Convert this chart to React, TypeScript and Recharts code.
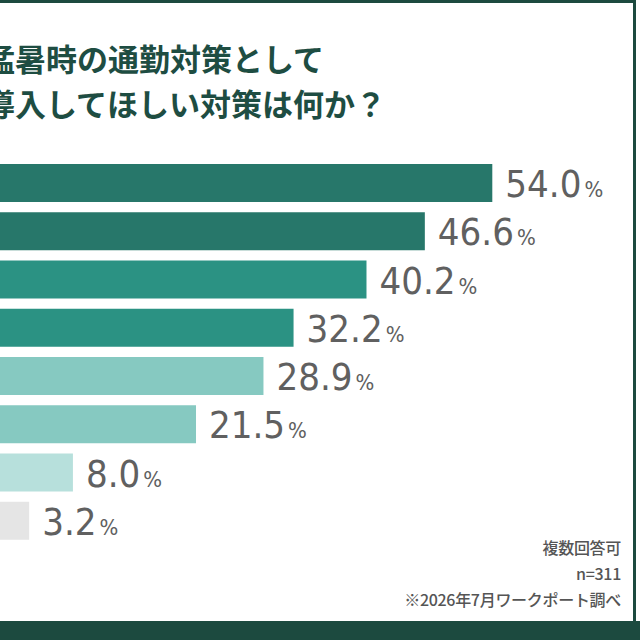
import { BarChart, Bar, XAxis, YAxis, Cell, LabelList } from "recharts";

// categories are cut off on the left of the picture, so only ids are kept
const categories = ["1", "2", "3", "4", "5", "6", "7", "8"];
const values = [54.0, 46.6, 40.2, 32.2, 28.9, 21.5, 8.0, 3.2];
const colors = [
  "#27776a",
  "#27776a",
  "#2b9283",
  "#2b9283",
  "#86c9c1",
  "#86c9c1",
  "#b7e0dc",
  "#e5e5e5",
];
const titleLines = ["猛暑時の通勤対策として", "導入してほしい対策は何か？"];
const notes = ["複数回答可", "n=311", "※2026年7月ワークポート調べ"];

const data = categories.map((name, i) => ({ name, value: values[i] }));

const DARK = "#1c4a3f";

const ValueLabel = (props: any) => {
  const { x, y, width, height, value } = props;
  return (
    <text
      x={x + width + 13}
      y={y + height / 2 + 14}
      fill="#606060"
      fontFamily="'DejaVu Sans Condensed', sans-serif"
    >
      <tspan fontSize={38}>{Number(value).toFixed(1)}</tspan>
      <tspan fontSize={22} dx={3}>
        %
      </tspan>
    </text>
  );
};

export default function App() {
  return (
    <div
      style={{
        position: "fixed",
        left: 0,
        top: 0,
        width: 640,
        height: 640,
        background: "#fff",
        overflow: "hidden",
      }}
    >
      {/* frame: top line, right line, bottom band */}
      <div style={{ position: "absolute", left: 0, top: 0, width: 636, height: 3, background: DARK }} />
      <div style={{ position: "absolute", left: 633, top: 0, width: 3, height: 621, background: DARK }} />
      <div style={{ position: "absolute", left: 0, top: 621, width: 640, height: 19, background: DARK }} />

      {/* title */}
      {titleLines.map((t, i) => (
        <div
          key={t}
          style={{
            position: "absolute",
            left: -16,
            top: 39 + i * 45,
            fontFamily: "'Noto Sans CJK JP', sans-serif",
            fontWeight: 700,
            fontSize: 31,
            lineHeight: "37px",
            color: "#1e4d42",
            whiteSpace: "nowrap",
          }}
        >
          {t}
        </div>
      ))}

      <div style={{ position: "absolute", left: 0, top: 0 }}>
        <BarChart
          width={640}
          height={640}
          data={data}
          layout="vertical"
          margin={{ top: 159, right: 93, bottom: 95, left: 0 }}
        >
          <XAxis type="number" domain={[0, 60]} hide />
          <YAxis type="category" dataKey="name" hide />
          <Bar dataKey="value" barSize={38} isAnimationActive={false}>
            {data.map((d, i) => (
              <Cell key={d.name} fill={colors[i]} />
            ))}
            <LabelList dataKey="value" content={<ValueLabel />} />
          </Bar>
        </BarChart>
      </div>

      {/* notes */}
      {notes.map((n, i) => (
        <div
          key={n}
          style={{
            position: "absolute",
            right: 19,
            top: 537 + i * 26,
            fontFamily: "'Noto Sans CJK JP', sans-serif",
            fontWeight: 500,
            fontSize: 16,
            lineHeight: "21px",
            color: "#555",
            whiteSpace: "nowrap",
            letterSpacing: -0.3,
          }}
        >
          {n}
        </div>
      ))}
    </div>
  );
}
